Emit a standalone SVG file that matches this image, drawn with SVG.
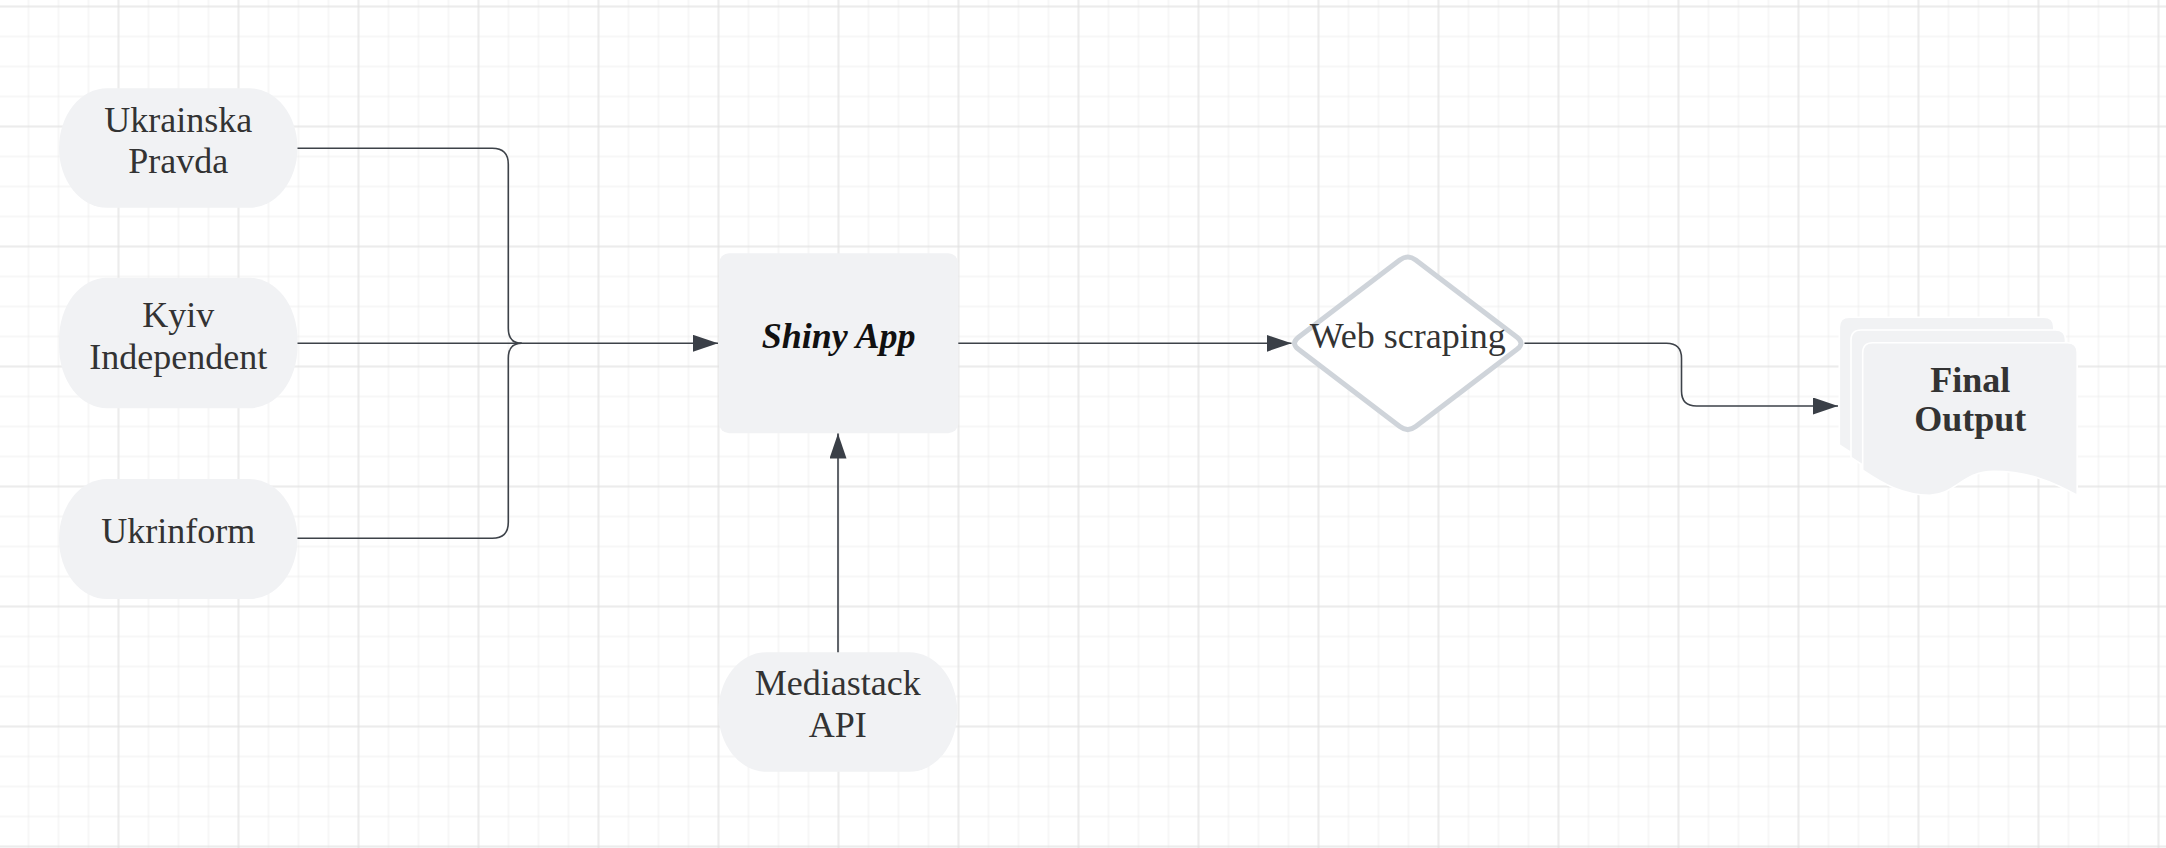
<svg xmlns="http://www.w3.org/2000/svg" width="2166" height="848" viewBox="0 0 2166 848">
  <style>
    .pill { fill: #f1f2f4; }
    .box { fill: #f1f2f4; }
    .lbl { font-family: "Liberation Serif", "DejaVu Serif", serif; font-size: 36px; fill: #333333; text-anchor: middle; }
    .shiny { font-weight: bold; font-style: italic; fill: #111111; }
    .bold { font-weight: bold; }
    .conn { fill: none; stroke: #3d4249; stroke-width: 1.6; }
    .doc { fill: #f1f2f4; stroke: #ffffff; stroke-width: 1.6; }
    .diamond { fill: #ffffff; stroke: #cfd4da; stroke-width: 5; stroke-linejoin: round; }
  </style>
  <defs>
    <pattern id="gridMinor" patternUnits="userSpaceOnUse" x="-16.5" y="-8.5" width="30" height="30">
      <path d="M15,0 V30 M0,15 H30" fill="none" stroke="#eeeeee" stroke-width="1"/>
    </pattern>
    <pattern id="gridMajor" patternUnits="userSpaceOnUse" x="-61.5" y="-53.5" width="120" height="120">
      <path d="M60,0 V120 M0,60 H120" fill="none" stroke="#e0e0e0" stroke-width="1"/>
    </pattern>
    <marker id="arrow" markerUnits="userSpaceOnUse" markerWidth="26" markerHeight="18" refX="25" refY="8.5" orient="auto">
      <path d="M0,0 L25,8.5 L0,17 Z" fill="#3a3f47"/>
    </marker>
    <path id="docShape" d="M0,10 Q0,0 10,0 H204.5 Q214.5,0 214.5,10 V152.5 C190,139 165,128.5 131,128.5 C100,128.5 92,152.5 67,152.5 C40,152.5 20,141 0,127.5 Z"/>
  </defs>

  <g id="background">
    <rect x="0" y="0" width="2166" height="848" fill="#ffffff"/>
    <rect x="0" y="0" width="2166" height="848" fill="url(#gridMinor)"/>
    <rect x="0" y="0" width="2166" height="848" fill="url(#gridMajor)"/>
  </g>

  <g id="node-ukrainska-pravda">
    <rect class="pill" x="59" y="88.3" width="238.5" height="119.4" rx="48" ry="59.7"/>
    <text class="lbl" x="178.2" y="131.7">Ukrainska</text>
    <text class="lbl" x="178.2" y="173">Pravda</text>
  </g>

  <g id="node-kyiv-independent">
    <rect class="pill" x="59" y="277.7" width="238.5" height="130.6" rx="48" ry="62"/>
    <text class="lbl" x="178.2" y="327">Kyiv</text>
    <text class="lbl" x="178.2" y="369">Independent</text>
  </g>

  <g id="node-ukrinform">
    <rect class="pill" x="59" y="479" width="238.5" height="120" rx="48" ry="60"/>
    <text class="lbl" x="178.2" y="542.7">Ukrinform</text>
  </g>

  <g id="node-shiny-app">
    <rect class="box" x="719" y="253.3" width="239.3" height="180" rx="10" ry="10"/>
    <text class="lbl shiny" x="838.6" y="348.3">Shiny App</text>
  </g>

  <g id="node-mediastack-api">
    <rect class="pill" x="718.3" y="652.3" width="239" height="119.4" rx="48" ry="59.7"/>
    <text class="lbl" x="837.8" y="695">Mediastack</text>
    <text class="lbl" x="837.8" y="736.7">API</text>
  </g>

  <g id="node-web-scraping">
    <path class="diamond" d="M1415.7,260.06 L1517.05,337.24 Q1525,343.3 1517.05,349.36 L1415.7,426.54 Q1407.75,432.6 1399.8,426.54 L1298.46,349.36 Q1290.5,343.3 1298.46,337.24 L1399.8,260.06 Q1407.75,254 1415.7,260.06 Z"/>
    <text class="lbl" x="1407.7" y="347.7" font-size="34">Web scraping</text>
  </g>

  <g id="node-final-output">
    <use href="#docShape" class="doc" transform="translate(1839.3,317.3)"/>
    <use href="#docShape" class="doc" transform="translate(1851,330)"/>
    <use href="#docShape" class="doc" transform="translate(1862.7,342.7)"/>
    <text class="lbl bold" x="1970.2" y="391.7">Final</text>
    <text class="lbl bold" x="1970.2" y="430.5">Output</text>
  </g>

  <g id="connectors">
    <path class="conn" d="M297.5,148.3 H492.3 Q508.3,148.3 508.3,164.3 V328.3 Q508.3,343.3 521.7,343.3"/>
    <path class="conn" d="M297.5,538.3 H492.3 Q508.3,538.3 508.3,522.3 V358.3 Q508.3,343.3 521.7,343.3"/>
    <path class="conn" d="M297.5,343.3 H718" marker-end="url(#arrow)"/>
    <path class="conn" d="M958.3,343.3 H1291.5" marker-end="url(#arrow)"/>
    <path class="conn" d="M838,652.3 V433.5" marker-end="url(#arrow)"/>
    <path class="conn" d="M1524.5,343.3 H1666.5 Q1681.5,343.3 1681.5,358.3 V391 Q1681.5,406 1696.5,406 H1838" marker-end="url(#arrow)"/>
  </g>
</svg>
